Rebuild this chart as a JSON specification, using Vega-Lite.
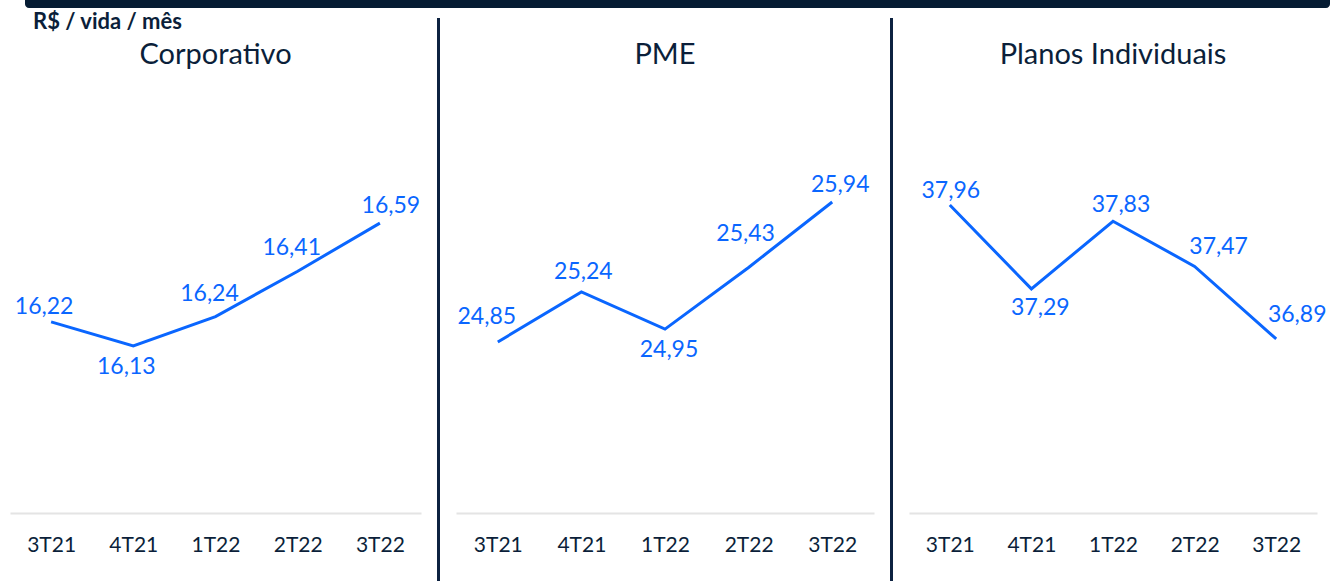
{
  "$schema": "https://vega.github.io/schema/vega-lite/v6.json",
  "padding": {"left": 10, "top": 0, "right": 0, "bottom": 0},
  "background": "white",
  "config": {
    "view": {"stroke": null},
    "font": "Lato",
    "locale": {"number": {"decimal": ",", "thousands": ".", "grouping": [3], "currency": ["R$ ", ""]}},
    "axis": {"domainColor": "#e4e4e4", "domainWidth": 2, "ticks": false, "grid": false, "labelFontSize": 21, "labelColor": "#0b1f3a", "labelPadding": 21, "labelAngle": 0, "title": null, "labelFont": "Lato"},
    "text": {"font": "Lato", "fontSize": 23, "color": "#0a66ff"}
  },
  "datasets": {
    "vals": [
      {"seg": "Corporativo", "q": "3T21", "v": 16.22},
      {"seg": "Corporativo", "q": "4T21", "v": 16.13},
      {"seg": "Corporativo", "q": "1T22", "v": 16.24},
      {"seg": "Corporativo", "q": "2T22", "v": 16.41},
      {"seg": "Corporativo", "q": "3T22", "v": 16.59},
      {"seg": "PME", "q": "3T21", "v": 24.85},
      {"seg": "PME", "q": "4T21", "v": 25.24},
      {"seg": "PME", "q": "1T22", "v": 24.95},
      {"seg": "PME", "q": "2T22", "v": 25.43},
      {"seg": "PME", "q": "3T22", "v": 25.94},
      {"seg": "Planos Individuais", "q": "3T21", "v": 37.96},
      {"seg": "Planos Individuais", "q": "4T21", "v": 37.29},
      {"seg": "Planos Individuais", "q": "1T22", "v": 37.83},
      {"seg": "Planos Individuais", "q": "2T22", "v": 37.47},
      {"seg": "Planos Individuais", "q": "3T22", "v": 36.89}
    ]
  },
  "spacing": 3,
  "vconcat": [
    {
      "spacing": 0,
      "hconcat": [
        {"width": 15, "height": 8, "data": {"values": [{"k": 1}]}, "mark": {"type": "rect", "opacity": 0}, "encoding": {}},
        {"width": 1305, "height": 8, "data": {"values": [{"k": 1}]}, "mark": {"type": "rect", "color": "#061c33", "cornerRadiusBottomLeft": 10, "cornerRadiusBottomRight": 10}, "encoding": {}}
      ]
    },
    {
      "title": {"text": "R$ / vida / mês", "anchor": "start", "offset": -16, "dx": 23, "fontSize": 22, "fontWeight": "bold", "color": "#0b1f3a", "font": "Lato", "frame": "group"},
      "spacing": 16,
      "hconcat": [
        {
          "spacing": 0,
          "vconcat": [
            {"width": 411, "height": 62, "data": {"values": [{"t": "Corporativo"}]}, "mark": {"type": "text", "fontSize": 29, "color": "#0b1f3a", "baseline": "middle", "dy": 6}, "encoding": {"text": {"field": "t", "type": "nominal"}}},
            {
              "width": 411, "height": 433,
              "data": {"name": "vals"},
              "transform": [{"filter": "datum.seg == 'Corporativo'"}],
              "encoding": {
                "x": {"field": "q", "type": "ordinal", "sort": null, "scale": {"type": "point", "padding": 0.5}},
                "y": {"field": "v", "type": "quantitative", "scale": {"domain": [15.5045, 17.126], "zero": false, "nice": false}, "axis": null},
                "text": {"field": "v", "type": "quantitative", "format": ".2f"}
              },
              "layer": [
                {"mark": {"type": "line", "color": "#0a66ff", "strokeWidth": 3}},
                {"transform": [{"filter": "datum.q == '3T21'"}], "mark": {"type": "text", "dx": -7, "dy": -15}},
                {"transform": [{"filter": "datum.q == '4T21'"}], "mark": {"type": "text", "dx": -7, "dy": 21}},
                {"transform": [{"filter": "datum.q == '1T22' || datum.q == '2T22'"}], "mark": {"type": "text", "dx": -6, "dy": -23}},
                {"transform": [{"filter": "datum.q == '3T22'"}], "mark": {"type": "text", "dx": 11, "dy": -17}}
              ]
            }
          ]
        },
        {"width": 3, "height": 563, "data": {"values": [{"k": 1}]}, "mark": {"type": "rect", "color": "#0d2240"}, "encoding": {}},
        {
          "spacing": 0,
          "vconcat": [
            {"width": 418, "height": 62, "data": {"values": [{"t": "PME"}]}, "mark": {"type": "text", "fontSize": 29, "color": "#0b1f3a", "baseline": "middle", "dy": 6}, "encoding": {"text": {"field": "t", "type": "nominal"}}},
            {
              "width": 418, "height": 433,
              "data": {"name": "vals"},
              "transform": [{"filter": "datum.seg == 'PME'"}],
              "encoding": {
                "x": {"field": "q", "type": "ordinal", "sort": null, "scale": {"type": "point", "padding": 0.5}},
                "y": {"field": "v", "type": "quantitative", "scale": {"domain": [23.518, 26.89], "zero": false, "nice": false}, "axis": null},
                "text": {"field": "v", "type": "quantitative", "format": ".2f"}
              },
              "layer": [
                {"mark": {"type": "line", "color": "#0a66ff", "strokeWidth": 3}},
                {"transform": [{"filter": "datum.q == '3T21'"}], "mark": {"type": "text", "dx": -11, "dy": -25}},
                {"transform": [{"filter": "datum.q == '4T21'"}], "mark": {"type": "text", "dx": 2, "dy": -20}},
                {"transform": [{"filter": "datum.q == '1T22'"}], "mark": {"type": "text", "dx": 4, "dy": 21}},
                {"transform": [{"filter": "datum.q == '2T22'"}], "mark": {"type": "text", "dx": -3, "dy": -33}},
                {"transform": [{"filter": "datum.q == '3T22'"}], "mark": {"type": "text", "dx": 8, "dy": -17}}
              ]
            }
          ]
        },
        {"width": 3, "height": 563, "data": {"values": [{"k": 1}]}, "mark": {"type": "rect", "color": "#0d2240"}, "encoding": {}},
        {
          "spacing": 0,
          "vconcat": [
            {"width": 408, "height": 62, "data": {"values": [{"t": "Planos Individuais"}]}, "mark": {"type": "text", "fontSize": 29, "color": "#0b1f3a", "baseline": "middle", "dy": 6}, "encoding": {"text": {"field": "t", "type": "nominal"}}},
            {
              "width": 408, "height": 433,
              "data": {"name": "vals"},
              "transform": [{"filter": "datum.seg == 'Planos Individuais'"}],
              "encoding": {
                "x": {"field": "q", "type": "ordinal", "sort": null, "scale": {"type": "point", "padding": 0.5}},
                "y": {"field": "v", "type": "quantitative", "scale": {"domain": [35.5, 38.9585], "zero": false, "nice": false}, "axis": null},
                "text": {"field": "v", "type": "quantitative", "format": ".2f"}
              },
              "layer": [
                {"mark": {"type": "line", "color": "#0a66ff", "strokeWidth": 3}},
                {"transform": [{"filter": "datum.q == '3T21'"}], "mark": {"type": "text", "dx": 1, "dy": -14}},
                {"transform": [{"filter": "datum.q == '4T21'"}], "mark": {"type": "text", "dx": 9, "dy": 19}},
                {"transform": [{"filter": "datum.q == '1T22'"}], "mark": {"type": "text", "dx": 8, "dy": -16}},
                {"transform": [{"filter": "datum.q == '2T22'"}], "mark": {"type": "text", "dx": 24, "dy": -19}},
                {"transform": [{"filter": "datum.q == '3T22'"}], "mark": {"type": "text", "dx": 21, "dy": -24}}
              ]
            }
          ]
        }
      ]
    }
  ]
}
